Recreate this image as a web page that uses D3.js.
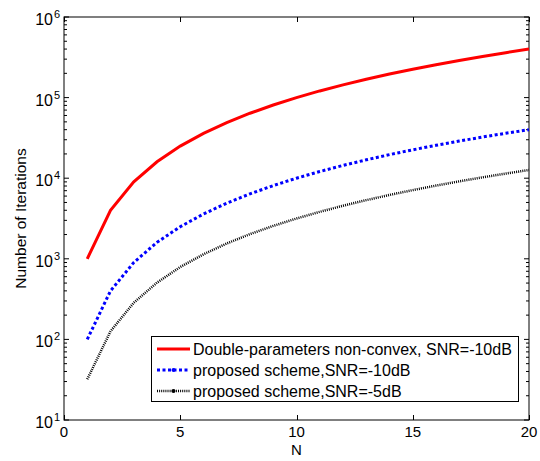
<!DOCTYPE html>
<html><head><meta charset="utf-8">
<script src="https://cdn.jsdelivr.net/npm/d3@7"></script>
<style>body{margin:0;background:#fff}svg{display:block;font-family:"Liberation Sans",Arial,sans-serif}</style>
</head><body><svg id="c" width="540" height="461"></svg>
<script>
const N = [1,2,3,4,5,6,7,8,9,10,11,12,13,14,15,16,17,18,19,20];
const doubleParam = [1000,4000,9000,16000,25000,36000,49000,64000,81000,100000,121000,144000,169000,196000,225000,256000,289000,324000,361000,400000];
const proposed10 = [100,400,900,1600,2500,3600,4900,6400,8100,10000,12100,14400,16900,19600,22500,25600,28900,32400,36100,40000];
const proposed5 = [32,126,285,506,791,1138,1549,2024,2561,3162,3826,4554,5344,6198,7115,8095,9139,10245,11415,12649];
const xTicks = [0,5,10,15,20];
const yExps = [1,2,3,4,5,6];
const labels = ["Double-parameters non-convex, SNR=-10dB","proposed scheme,SNR=-10dB","proposed scheme,SNR=-5dB"];

const svg = d3.select("#c");
const L=64, R=529, T=17, B=420;
const x = d3.scaleLinear().domain([0,20]).range([L,R]);
const y = d3.scaleLog().domain([10,1e6]).range([B,T]);

// axes box
svg.append("rect").attr("x",L).attr("y",T).attr("width",R-L).attr("height",B-T)
  .attr("fill","none").attr("stroke","#000").attr("stroke-width",1);

// ticks
const g = svg.append("g").attr("stroke","#000").attr("stroke-width",1);
xTicks.forEach(t=>{
  const px = Math.round(x(t))+0.5;
  g.append("line").attr("x1",px).attr("x2",px).attr("y1",B).attr("y2",B-5);
  g.append("line").attr("x1",px).attr("x2",px).attr("y1",T).attr("y2",T+5);
  svg.append("text").attr("x",x(t)).attr("y",437).attr("text-anchor","middle")
    .attr("font-size",15).text(t);
});
for(let e=1;e<=6;e++){
  const py = y(Math.pow(10,e));
  g.append("line").attr("x1",L).attr("x2",L+5).attr("y1",py).attr("y2",py);
  g.append("line").attr("x1",R).attr("x2",R-5).attr("y1",py).attr("y2",py);
  if(e<6){
    for(let m=2;m<=9;m++){
      const pm = y(m*Math.pow(10,e));
      g.append("line").attr("x1",L).attr("x2",L+3).attr("y1",pm).attr("y2",pm);
      g.append("line").attr("x1",R).attr("x2",R-3).attr("y1",pm).attr("y2",pm);
    }
  }
}
yExps.forEach(e=>{
  svg.append("text").attr("x",53).attr("y",y(Math.pow(10,e))+8)
    .attr("text-anchor","end").attr("font-size",16).text("10");
  svg.append("text").attr("x",54).attr("y",y(Math.pow(10,e))+1)
    .attr("font-size",11).text(e);
});

// axis labels
svg.append("text").attr("x",x(10)).attr("y",455).attr("text-anchor","middle").attr("font-size",15).text("N");
svg.append("text").attr("transform",`translate(26,${(T+B)/2}) rotate(-90)`)
  .attr("text-anchor","middle").attr("font-size",15.5).text("Number of Iterations");

// lines
const line = d3.line().x((d,i)=>x(N[i])).y(d=>y(d));
svg.append("path").datum(doubleParam).attr("d",line).attr("fill","none")
  .attr("stroke","#ff0000").attr("stroke-width",3);
svg.append("path").datum(proposed10).attr("d",line).attr("fill","none")
  .attr("stroke","#0000ff").attr("stroke-width",3).attr("stroke-dasharray","3,2.5");
svg.append("path").datum(proposed5).attr("d",line).attr("fill","none")
  .attr("stroke","#000").attr("stroke-width",2.5).attr("stroke-dasharray","1,1.1");

// legend
const lg = svg.append("g");
lg.append("rect").attr("x",151.5).attr("y",336.5).attr("width",367).attr("height",65)
  .attr("fill","#fff").attr("stroke","#000").attr("stroke-width",1);
const styles = [
  {c:"#ff0000",w:3,d:null,dot:false},
  {c:"#0000ff",w:3,d:"3,2.5",dot:true},
  {c:"#000",w:2.5,d:"1,1.1",dot:true}];
labels.forEach((s,i)=>{
  const yy = 349 + i*21;
  const st = styles[i];
  const l = lg.append("line").attr("x1",157).attr("x2",190).attr("y1",yy).attr("y2",yy)
    .attr("stroke",st.c).attr("stroke-width",st.w);
  if(st.d) l.attr("stroke-dasharray",st.d);
  if(st.dot) lg.append("circle").attr("cx",173.5).attr("cy",yy).attr("r",2).attr("fill",st.c);
  lg.append("text").attr("x",193).attr("y",yy+6).attr("font-size",16).text(s);
});
</script></body></html>
